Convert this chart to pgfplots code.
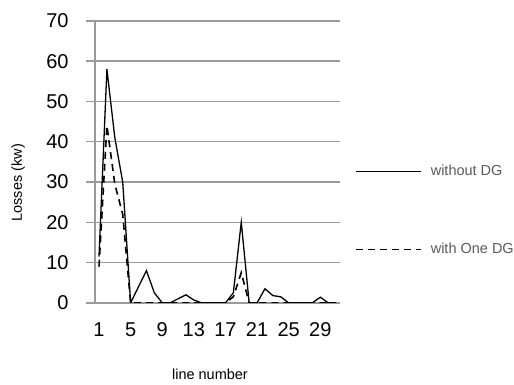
\documentclass[border=0pt]{standalone}
\usepackage{pgfplots}
\pgfplotsset{compat=1.18}
\usepackage{fontspec}
\setmainfont{Liberation Sans}
\definecolor{gridgray}{HTML}{9A9A9A}
\definecolor{legtext}{HTML}{5A5A5A}
\begin{document}
\begin{tikzpicture}
\begin{axis}[
  scale only axis,
  width=245pt, height=282pt,
  xmin=0.5, xmax=31.5,
  ymin=0, ymax=70,
  ytick={0,10,...,70},
  xtick={1,5,...,29},
  axis x line*=bottom,
  axis y line*=left,
  axis line style={draw=gridgray, line width=1.3pt, -},
  ymajorgrids,
  major grid style={draw=gridgray, line width=1.3pt},
  tick align=outside,
  major tick length=9pt,
  ytick style={draw=gridgray, line width=1.3pt},
  xtick style={draw=none},
  /pgf/number format/assume math mode=true,
  tick label style={font=\fontsize{20}{24}\selectfont},
  yticklabel style={anchor=east, xshift=-14pt},
  xticklabel style={anchor=north, yshift=-7pt},
  xlabel={line number},
  ylabel={Losses (kw)},
  label style={font=\fontsize{14.5}{17}\selectfont},
  xlabel style={at={(axis description cs:0.469,-0.255)}, anchor=center},
  ylabel style={at={(axis description cs:-0.314,0.426)}, anchor=center},
  legend style={at={(axis description cs:1.061,0.495)}, anchor=north west,
    draw=none, fill=none, inner sep=0pt, row sep=62pt,
    font=\fontsize{14.5}{17}\selectfont, text=legtext,
    legend cell align=left},
  legend image code/.code={\draw[#1] (0pt,0pt) -- (65pt,0pt); \path (72pt,0pt);},
]
\addplot[black, line width=1.3pt] coordinates {
(1,11.5) (2,58) (3,41) (4,30) (5,0) (6,4) (7,8) (8,2.5) (9,0) (10,0)
(11,1) (12,2) (13,0.7) (14,0) (15,0) (16,0) (17,0) (18,2.5) (19,20) (20,0)
(21,0) (22,3.5) (23,1.8) (24,1.5) (25,0) (26,0) (27,0) (28,0) (29,1.4) (30,0) (31,0)
};
\addlegendentry{without DG}
\addplot[black, line width=1.6pt, dash pattern=on 7pt off 5pt] coordinates {
(1,9) (2,44) (3,29.5) (4,22) (5,0) (6,0) (7,0) (8,0) (9,0) (10,0)
(11,0) (12,0) (13,0) (14,0) (15,0) (16,0) (17,0) (18,1.5) (19,7.5) (20,0)
(21,0) (22,0) (23,0) (24,0) (25,0) (26,0) (27,0) (28,0) (29,0) (30,0) (31,0)
};
\addlegendentry{with One DG}
\coordinate (bbBL) at (rel axis cs:-0.388,-0.291);
\coordinate (bbTR) at (rel axis cs:1.710,1.074);
\end{axis}
\pgfresetboundingbox
\path[use as bounding box] (bbBL) rectangle (bbTR);
\end{tikzpicture}
\end{document}
